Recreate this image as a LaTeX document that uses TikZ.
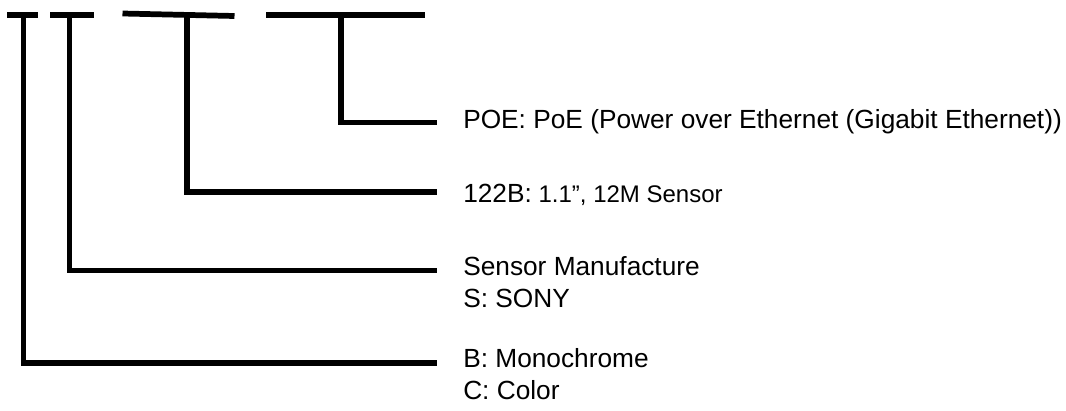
\documentclass[tikz,border=0pt]{standalone}
\usepackage{fontspec}
\setmainfont{Liberation Sans}
\tikzset{bar/.style={line width=4.3pt}}
\tikzset{lbl/.style={inner sep=0pt,anchor=west,text height=.72em,text depth=0pt,font=\fontsize{19.7}{24}\selectfont}}
\newcommand{\smalltxt}[1]{{\fontsize{18}{21}\selectfont #1}}

\begin{document}
\begin{tikzpicture}[x=.75pt,y=-.75pt]
    \useasboundingbox (0,0) rectangle (1066,410);
    % stem tops and line ends
    \coordinate (tMono) at (23.5,15);
    \coordinate (tSens) at (69.5,15);
    \coordinate (tRes) at (187,15);
    \coordinate (tPoe) at (341,15);
    \coordinate (eMono) at (437,363);
    \coordinate (eSens) at (437,270.5);
    \coordinate (eRes) at (437,192);
    \coordinate (ePoe) at (437,122.5);
    % bars on top
    \draw[bar] (7,15) -- (37.5,15);
    \draw[bar] (50,15) -- (93.5,15);
    \draw[bar] (122.5,13.5) -- (234.5,16);
    \draw[bar] (266,15) -- (424.5,15);
    % labels
    \node[lbl] (lblPoe) at (463,124) {POE: PoE (Power over Ethernet (Gigabit Ethernet))};
    \node[lbl] (lblRes) at (463,198) {122B:\smalltxt{ 1.1”, 12M Sensor}};
    \node[lbl] (lblSens) at (463,271) {Sensor Manufacture};
    \node[lbl] (lblSony) at (463,302.7) {S: SONY};
    \node[lbl] (lblMono) at (463,362.5) {B: Monochrome};
    \node[lbl] (lblColor) at (463,394.2) {C: Color};
    % connectors
    \draw[bar] (tMono) |- (eMono);
    \draw[bar] (tSens) |- (eSens);
    \draw[bar] (tRes) |- (eRes);
    \draw[bar] (tPoe) |- (ePoe);
\end{tikzpicture}
\end{document}
